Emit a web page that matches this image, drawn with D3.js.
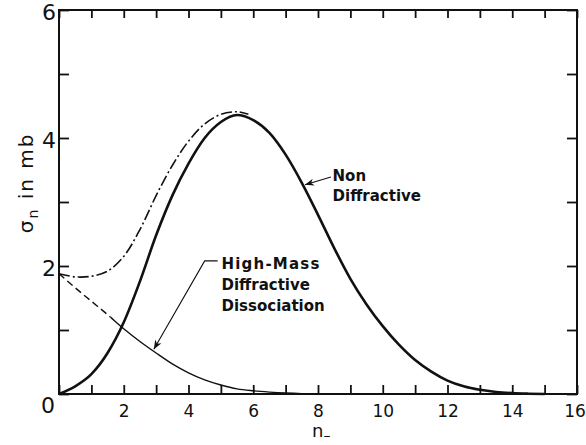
<!DOCTYPE html>
<html>
<head>
<meta charset="utf-8">
<script src="https://cdn.jsdelivr.net/npm/d3@7"></script>
<style>
  html, body { margin: 0; padding: 0; background: #fff; }
  svg { display: block; }
  text { font-family: "DejaVu Sans", "Liberation Sans", sans-serif; fill: #111; }
</style>
</head>
<body>
<svg id="chart" width="586" height="445"></svg>
<script>
// ---- data ----
const ndN = [0, 0.5, 1, 1.5, 2, 2.5, 3, 3.5, 4, 4.5, 5, 5.5, 6, 6.5, 7, 7.5, 8, 8.5, 9, 9.5, 10, 10.5, 11, 11.5, 12, 12.5, 13, 13.5, 14, 14.5, 15];
const ndV = [0, 0.12, 0.31, 0.64, 1.12, 1.76, 2.48, 3.1, 3.6, 4.0, 4.25, 4.36, 4.28, 4.08, 3.74, 3.3, 2.8, 2.28, 1.8, 1.4, 1.06, 0.77, 0.53, 0.35, 0.21, 0.12, 0.065, 0.032, 0.014, 0.005, 0];

const hmN = [0, 0.5, 1, 1.5, 2, 2.5, 3, 3.5, 4, 4.5, 5, 5.5, 6, 6.5, 7, 7.5, 8];
const hmV = [1.88, 1.66, 1.45, 1.24, 1.02, 0.82, 0.64, 0.47, 0.33, 0.22, 0.14, 0.08, 0.05, 0.03, 0.015, 0.005, 0];
const hmDashedUntil = 1.6;

const sumN = [0, 0.5, 1, 1.5, 2, 2.5, 3, 3.5, 4, 4.5, 5, 5.5, 5.85];
const sumV = [1.88, 1.83, 1.84, 1.92, 2.15, 2.57, 3.1, 3.57, 3.95, 4.22, 4.37, 4.41, 4.37];

const xTicks = [0, 1, 2, 3, 4, 5, 6, 7, 8, 9, 10, 11, 12, 13, 14, 15, 16];
const yTicks = [0, 1, 2, 3, 4, 5, 6];
const xLabelled = [2, 4, 6, 8, 10, 12, 14, 16];
const yLabelled = [2, 4, 6];

const ndLabel = ["Non", "Diffractive"];
const hmLabel = ["High-Mass", "Diffractive", "Dissociation"];

// ---- layout ----
const svg = d3.select("#chart");
const x = d3.scaleLinear().domain([0, 16]).range([59, 577]);
const y = d3.scaleLinear().domain([0, 6]).range([394, 10]);
const numFont = "Liberation Sans, Arial, sans-serif";

const defs = svg.append("defs");
defs.append("clipPath").attr("id", "clipDash")
  .append("rect").attr("x", 0).attr("y", 0).attr("width", x(hmDashedUntil)).attr("height", 445);
defs.append("clipPath").attr("id", "clipSolid")
  .append("rect").attr("x", x(hmDashedUntil)).attr("y", 0).attr("width", 586).attr("height", 445);
defs.append("marker").attr("id", "arrow").attr("viewBox", "0 0 10 10")
  .attr("refX", 10).attr("refY", 5).attr("markerWidth", 9).attr("markerHeight", 9)
  .attr("markerUnits", "userSpaceOnUse").attr("orient", "auto")
  .append("path").attr("d", "M0,1 L10,5 L0,9 L3,5 Z").attr("fill", "#111");

// axes (ticks inward)
const axisStyle = g => {
  g.select(".domain").remove();
  g.selectAll(".tick line").attr("stroke", "#111").attr("stroke-width", 1.8);
  g.selectAll(".tick text").attr("fill", "#111");
};
const fmtX = d => xLabelled.includes(d) ? d : "";
const fmtY = d => yLabelled.includes(d) ? d : "";

svg.append("g").attr("transform", `translate(0,${y(0)})`)
  .call(d3.axisBottom(x).tickValues(xTicks).tickSizeInner(-9).tickSizeOuter(0).tickPadding(11).tickFormat(fmtX))
  .call(axisStyle)
  .call(g => g.selectAll(".tick text").attr("font-size", 17).attr("font-family", numFont)
    .attr("dx", d => d === 16 ? -2.5 : 0));

svg.append("g").attr("transform", `translate(0,${y(6)})`)
  .call(d3.axisTop(x).tickValues(xTicks).tickSizeInner(-8).tickSizeOuter(0).tickFormat(""))
  .call(axisStyle);

svg.append("g").attr("transform", `translate(${x(0)},0)`)
  .call(d3.axisLeft(y).tickValues(yTicks).tickSizeInner(-10).tickSizeOuter(0).tickPadding(3).tickFormat(fmtY))
  .call(axisStyle)
  .call(g => g.selectAll(".tick text").attr("font-size", 22).attr("font-family", numFont)
    .attr("dy", "0.42em"));

svg.append("g").attr("transform", `translate(${x(16)},0)`)
  .call(d3.axisRight(y).tickValues(yTicks).tickSizeInner(-10).tickSizeOuter(0).tickFormat(""))
  .call(axisStyle);

// "0" at the corner
svg.append("text").attr("x", x(0) - 4).attr("y", y(0) + 19)
  .attr("text-anchor", "end").attr("font-size", 22).attr("font-family", numFont).text("0");

// frame
svg.append("rect").attr("x", x(0)).attr("y", y(6))
  .attr("width", x(16) - x(0)).attr("height", y(0) - y(6))
  .attr("fill", "none").attr("stroke", "#111").attr("stroke-width", 2);

// curves
const line = d3.line().x(d => x(d[0])).y(d => y(d[1])).curve(d3.curveMonotoneX);
const smooth = d3.line().x(d => x(d[0])).y(d => y(d[1])).curve(d3.curveCatmullRom.alpha(0.5));
const nd = ndN.map((n, i) => [n, ndV[i]]);
const hm = hmN.map((n, i) => [n, hmV[i]]);
const sm = sumN.map((n, i) => [n, sumV[i]]);

svg.append("path").attr("d", smooth(sm)).attr("fill", "none").attr("stroke", "#111")
  .attr("stroke-width", 1.6).attr("stroke-dasharray", "11,3,2,3");
svg.append("path").attr("d", line(hm)).attr("fill", "none").attr("stroke", "#111")
  .attr("stroke-width", 1.4).attr("stroke-dasharray", "7,4").attr("clip-path", "url(#clipDash)");
svg.append("path").attr("d", line(hm)).attr("fill", "none").attr("stroke", "#111")
  .attr("stroke-width", 1.4).attr("clip-path", "url(#clipSolid)");
svg.append("path").attr("d", line(nd)).attr("fill", "none").attr("stroke", "#111")
  .attr("stroke-width", 2.6).attr("stroke-linejoin", "round");

// annotations
const annFont = 15;
svg.append("path")
  .attr("d", d3.line()([[x(8.4), y(3.39)], [x(7.6), y(3.27)]]))
  .attr("stroke", "#111").attr("stroke-width", 1.2).attr("fill", "none")
  .attr("marker-end", "url(#arrow)");
svg.selectAll("text.nd").data(ndLabel).join("text").attr("class", "nd")
  .attr("x", x(8.45)).attr("y", (d, i) => y(3.33) + i * 20)
  .attr("font-size", annFont).attr("font-weight", "bold").text(d => d);

svg.append("path")
  .attr("d", d3.line()([[x(4.9), y(2.08)], [x(4.5), y(2.08)], [x(2.93), y(0.7)]]))
  .attr("stroke", "#111").attr("stroke-width", 1.1).attr("fill", "none")
  .attr("marker-end", "url(#arrow)");
svg.selectAll("text.hm").data(hmLabel).join("text").attr("class", "hm")
  .attr("x", x(5.02)).attr("y", (d, i) => y(1.95) + i * 21)
  .attr("font-size", annFont).attr("font-weight", "bold")
  .attr("letter-spacing", (d, i) => i === 0 ? 1.2 : 0).text(d => d);

// axis titles
const yt = svg.append("text")
  .attr("transform", `translate(33,${(y(4.0) + y(2.6)) / 2}) rotate(-90)`)
  .attr("text-anchor", "middle").attr("font-size", 20).attr("letter-spacing", 2);
yt.append("tspan").text("σ");
yt.append("tspan").attr("font-size", 14).attr("dy", 5).text("n");
yt.append("tspan").attr("dy", -5).text("   in  mb");

const xt = svg.append("text").attr("x", x(8.1)).attr("y", 437)
  .attr("text-anchor", "middle").attr("font-size", 18);
xt.append("tspan").text("n");
xt.append("tspan").attr("font-size", 14).attr("dy", 3).text("–");
</script>
</body>
</html>
